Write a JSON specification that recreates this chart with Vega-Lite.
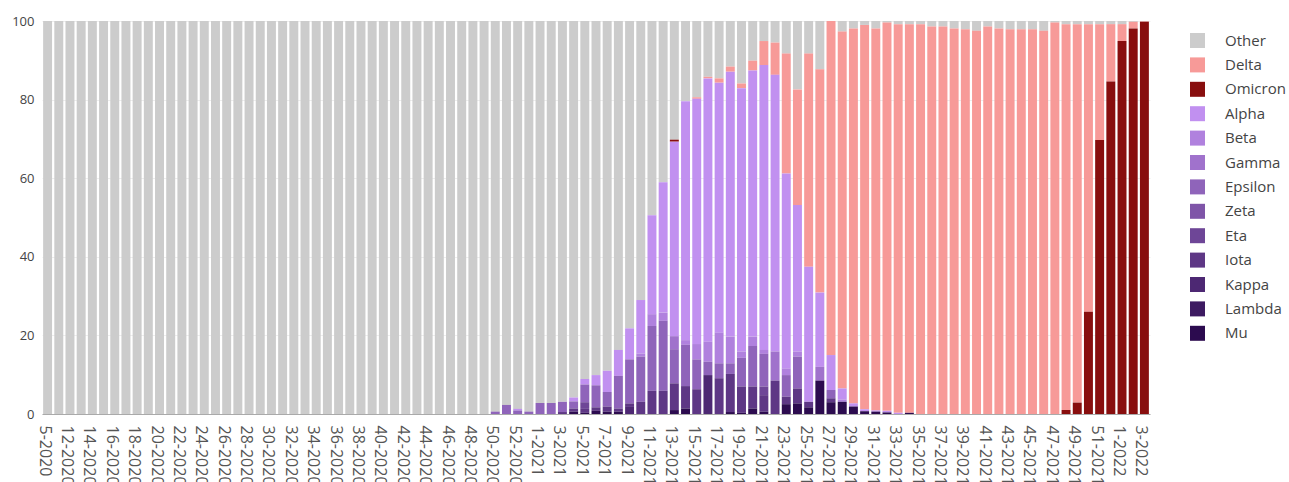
{
  "$schema": "https://vega.github.io/schema/vega-lite/v6.json",
  "autosize": "none",
  "width": 1108,
  "height": 393,
  "padding": {"left": 42, "top": 21, "right": 139, "bottom": 68},
  "background": "white",
  "config": {
    "view": {"stroke": null},
    "font": "Open Sans",
    "axis": {"labelFont": "Open Sans", "labelColor": "#444", "title": null}
  },
  "data": {"values": [
    {"week":"5-2020","Other":100},{"week":"11-2020","Other":100},{"week":"12-2020","Other":100},{"week":"13-2020","Other":100},{"week":"14-2020","Other":100},{"week":"15-2020","Other":100},{"week":"16-2020","Other":100},{"week":"17-2020","Other":100},{"week":"18-2020","Other":100},{"week":"19-2020","Other":100},{"week":"20-2020","Other":100},{"week":"21-2020","Other":100},{"week":"22-2020","Other":100},{"week":"23-2020","Other":100},{"week":"24-2020","Other":100},{"week":"25-2020","Other":100},{"week":"26-2020","Other":100},{"week":"27-2020","Other":100},{"week":"28-2020","Other":100},{"week":"29-2020","Other":100},{"week":"30-2020","Other":100},{"week":"31-2020","Other":100},{"week":"32-2020","Other":100},{"week":"33-2020","Other":100},{"week":"34-2020","Other":100},{"week":"35-2020","Other":100},{"week":"36-2020","Other":100},{"week":"37-2020","Other":100},{"week":"38-2020","Other":100},{"week":"39-2020","Other":100},{"week":"40-2020","Other":100},{"week":"41-2020","Other":100},{"week":"42-2020","Other":100},{"week":"43-2020","Other":100},{"week":"44-2020","Other":100},{"week":"45-2020","Other":100},{"week":"46-2020","Other":100},{"week":"47-2020","Other":100},{"week":"48-2020","Other":100},{"week":"49-2020","Other":100},
    {"week":"50-2020","Other":99.4,"Epsilon":0.6},
    {"week":"51-2020","Other":97.7,"Epsilon":2.3},
    {"week":"52-2020","Other":98.7,"Alpha":0.4,"Epsilon":0.9},
    {"week":"53-2020","Other":99.4,"Epsilon":0.6},
    {"week":"1-2021","Other":97.2,"Epsilon":2.8},
    {"week":"2-2021","Other":97.2,"Epsilon":2.8},
    {"week":"3-2021","Other":96.9,"Epsilon":2.6,"Iota":0.5},
    {"week":"4-2021","Other":95.8,"Alpha":1.0,"Epsilon":1.8,"Iota":0.8,"Mu":0.6},
    {"week":"5-2021","Other":91.1,"Alpha":1.4,"Epsilon":4.5,"Eta":1.7,"Iota":1.0,"Mu":0.3},
    {"week":"6-2021","Other":90.1,"Alpha":2.6,"Epsilon":5.6,"Iota":0.9,"Mu":0.8},
    {"week":"7-2021","Other":89.0,"Alpha":5.4,"Epsilon":3.7,"Iota":1.3,"Mu":0.6},
    {"week":"8-2021","Other":83.7,"Alpha":6.6,"Epsilon":8.3,"Iota":0.8,"Mu":0.6},
    {"week":"9-2021","Other":78.2,"Alpha":7.9,"Epsilon":11.2,"Iota":0.9,"Kappa":1.8},
    {"week":"10-2021","Other":71.0,"Alpha":13.6,"Beta":0.8,"Epsilon":11.5,"Iota":3.1},
    {"week":"11-2021","Other":49.4,"Alpha":25.2,"Beta":3.0,"Epsilon":16.5,"Iota":5.9},
    {"week":"12-2021","Other":41.0,"Alpha":33.2,"Beta":2.1,"Epsilon":17.8,"Iota":5.9},
    {"week":"13-2021","Other":30.2,"Omicron":0.5,"Alpha":49.5,"Gamma":3.3,"Epsilon":8.7,"Iota":6.8,"Mu":1.0},
    {"week":"14-2021","Other":20.4,"Alpha":60.8,"Beta":1.2,"Epsilon":10.5,"Iota":5.7,"Mu":1.4},
    {"week":"15-2021","Other":19.4,"Delta":0.4,"Alpha":62.4,"Beta":3.9,"Epsilon":7.6,"Iota":6.3},
    {"week":"16-2021","Other":14.2,"Delta":0.4,"Alpha":67.0,"Beta":5.1,"Epsilon":3.4,"Kappa":9.9},
    {"week":"17-2021","Other":14.6,"Delta":1.1,"Alpha":63.6,"Beta":7.8,"Epsilon":3.8,"Iota":9.1},
    {"week":"18-2021","Other":11.6,"Delta":1.3,"Alpha":67.4,"Beta":6.8,"Epsilon":2.7,"Iota":9.7,"Mu":0.5},
    {"week":"19-2021","Other":15.9,"Delta":1.2,"Alpha":67.0,"Beta":1.6,"Epsilon":7.3,"Iota":6.7,"Mu":0.3},
    {"week":"20-2021","Other":10.1,"Delta":2.5,"Alpha":67.7,"Beta":2.4,"Epsilon":10.3,"Iota":5.6,"Mu":1.4},
    {"week":"21-2021","Other":5.1,"Delta":6.1,"Alpha":72.5,"Beta":1.0,"Epsilon":8.3,"Eta":2.2,"Iota":4.2,"Mu":0.6},
    {"week":"22-2021","Other":5.5,"Delta":8.2,"Alpha":70.4,"Gamma":7.4,"Iota":8.5},
    {"week":"23-2021","Other":8.3,"Delta":30.5,"Alpha":49.6,"Beta":1.7,"Epsilon":5.5,"Iota":1.9,"Mu":2.5},
    {"week":"24-2021","Other":17.4,"Delta":29.4,"Alpha":37.3,"Beta":1.3,"Epsilon":8.1,"Iota":3.8,"Mu":2.7},
    {"week":"25-2021","Other":8.3,"Delta":54.2,"Alpha":34.4,"Iota":1.4,"Mu":1.7},
    {"week":"26-2021","Other":12.3,"Delta":56.8,"Alpha":18.9,"Gamma":3.5,"Mu":8.5},
    {"week":"27-2021","Delta":85.0,"Alpha":8.9,"Epsilon":2.1,"Iota":1.0,"Mu":3.0},
    {"week":"28-2021","Other":2.7,"Delta":90.8,"Alpha":2.8,"Beta":0.6,"Mu":3.1},
    {"week":"29-2021","Other":1.9,"Delta":95.4,"Alpha":0.8,"Mu":1.9},
    {"week":"30-2021","Other":1.0,"Delta":97.8,"Alpha":0.5,"Mu":0.7},
    {"week":"31-2021","Other":1.9,"Delta":97.2,"Alpha":0.3,"Mu":0.6},
    {"week":"32-2021","Other":0.4,"Delta":98.8,"Alpha":0.4,"Mu":0.4},
    {"week":"33-2021","Other":0.8,"Delta":98.9,"Alpha":0.3},
    {"week":"34-2021","Other":0.8,"Delta":98.9,"Mu":0.3},
    {"week":"35-2021","Other":0.8,"Delta":99.2},
    {"week":"36-2021","Other":1.4,"Delta":98.6},
    {"week":"37-2021","Other":1.4,"Delta":98.6},
    {"week":"38-2021","Other":1.9,"Delta":98.1},
    {"week":"39-2021","Other":2.1,"Delta":97.9},
    {"week":"40-2021","Other":2.5,"Delta":97.5},
    {"week":"41-2021","Other":1.4,"Delta":98.6},
    {"week":"42-2021","Other":1.9,"Delta":98.1},
    {"week":"43-2021","Other":2.1,"Delta":97.9},
    {"week":"44-2021","Other":2.1,"Delta":97.9},
    {"week":"45-2021","Other":2.1,"Delta":97.9},
    {"week":"46-2021","Other":2.5,"Delta":97.5},
    {"week":"47-2021","Other":0.4,"Delta":99.6},
    {"week":"48-2021","Other":0.8,"Delta":98.2,"Omicron":1.0},
    {"week":"49-2021","Other":0.8,"Delta":96.3,"Omicron":2.9},
    {"week":"50-2021","Other":0.8,"Delta":73.2,"Omicron":26.0},
    {"week":"51-2021","Other":0.8,"Delta":29.5,"Omicron":69.7},
    {"week":"52-2021","Other":0.8,"Delta":14.6,"Omicron":84.6},
    {"week":"1-2022","Other":0.8,"Delta":4.3,"Omicron":94.9},
    {"week":"2-2022","Other":0.2,"Delta":1.7,"Omicron":98.1},
    {"week":"3-2022","Other":0.1,"Delta":0.1,"Omicron":99.8}
  ]},
  "transform": [
    {"fold": ["Other","Delta","Omicron","Alpha","Beta","Gamma","Epsilon","Zeta","Eta","Iota","Kappa","Lambda","Mu"], "as": ["variant","value"]},
    {"filter": "isValid(datum.value) && datum.value > 0"},
    {"calculate": "indexof(['Mu','Lambda','Kappa','Iota','Eta','Zeta','Epsilon','Gamma','Beta','Alpha','Omicron','Delta','Other'], datum.variant)", "as": "stackrank"}
  ],
  "mark": {"type": "bar"},
  "encoding": {
    "x": {
      "field": "week", "type": "nominal", "sort": null,
      "scale": {"paddingInner": 0.2, "paddingOuter": 0.1},
      "axis": {
        "values": ["5-2020","12-2020","14-2020","16-2020","18-2020","20-2020","22-2020","24-2020","26-2020","28-2020","30-2020","32-2020","34-2020","36-2020","38-2020","40-2020","42-2020","44-2020","46-2020","48-2020","50-2020","52-2020","1-2021","3-2021","5-2021","7-2021","9-2021","11-2021","13-2021","15-2021","17-2021","19-2021","21-2021","23-2021","25-2021","27-2021","29-2021","31-2021","33-2021","35-2021","37-2021","39-2021","41-2021","43-2021","45-2021","47-2021","49-2021","51-2021","1-2022","3-2022"],
        "labelAngle": 90, "labelFontSize": 16, "labelPadding": 11, "labelOffset": -3, "labelColor": "#555",
        "ticks": false, "domainColor": "#aaaaaa", "domainWidth": 1, "grid": false, "labelOverlap": false
      }
    },
    "y": {
      "field": "value", "type": "quantitative", "stack": "zero",
      "scale": {"domain": [0, 100], "nice": false},
      "axis": {"values": [0,20,40,60,80,100], "labelFontSize": 13, "labelPadding": 8, "ticks": false, "domain": false, "gridColor": "#eeeeee"}
    },
    "color": {
      "field": "variant", "type": "nominal",
      "scale": {
        "domain": ["Other","Delta","Omicron","Alpha","Beta","Gamma","Epsilon","Zeta","Eta","Iota","Kappa","Lambda","Mu"],
        "range": ["#cccccc","#f79a98","#880e0e","#c190f0","#b081de","#a072cc","#8f64ba","#7f55a8","#6e4697","#5e3785","#4d2873","#3d1a61","#2c0b4f"]
      },
      "legend": {
        "title": null, "orient": "none", "legendX": 1148, "legendY": 12,
        "symbolType": "square", "symbolSize": 225, "symbolStrokeWidth": 0, "symbolOpacity": 1,
        "labelFontSize": 15, "labelColor": "#444", "labelFont": "Open Sans", "labelOffset": 20,
        "rowPadding": 8.4, "padding": 0
      }
    },
    "order": {"field": "stackrank", "type": "quantitative", "sort": "ascending"}
  }
}
